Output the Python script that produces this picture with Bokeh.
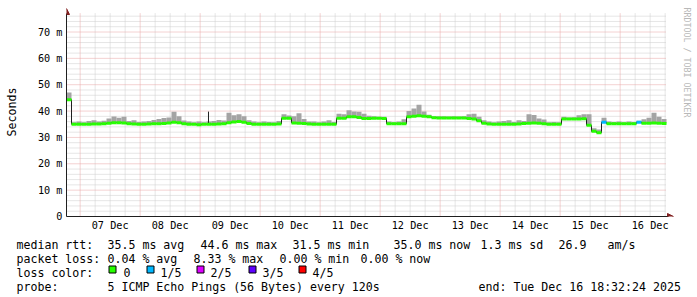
import math
from bokeh.plotting import figure
from bokeh.layouts import column
from bokeh.models import FixedTicker, Range1d, Label, Arrow, NormalHead, ColumnDataSource
from bokeh.core.properties import value
from bokeh.embed import file_html
from bokeh.resources import INLINE

# ---------------- data ----------------
# time in days since 2025-12-06 00:00
T_START = 0.7725      # Sat Dec 06 18:32:24 2025
T_END = 10.7725       # Tue Dec 16 18:32:24 2025
STEP = 1.0 / 12.0     # one sample every 2 hours

# median rtt (ms), one value per 2 h bin
MEDIAN = [
    44.3, 35.0, 35.0, 35.0, 35.0, 35.1, 35.1, 35.2, 35.4, 35.6,
    35.6, 35.5, 35.2, 35.1, 35.0, 35.0, 35.1, 35.2, 35.2, 35.3,
    35.5, 35.8, 35.6, 35.2, 35.0, 35.0, 34.8, 35.0, 35.0, 35.0,
    35.1, 35.2, 35.6, 35.9, 36.0, 35.8, 35.3, 35.0, 35.0, 35.0,
    35.0, 35.0, 35.1, 37.3, 37.3, 35.5, 35.4, 35.3, 35.1, 35.0,
    35.0, 35.0, 35.0, 35.0, 37.3, 37.3, 37.8, 37.8, 37.6, 37.2,
    37.2, 37.3, 37.3, 37.2, 35.2, 35.2, 35.2, 35.2, 37.8, 38.0,
    38.2, 38.0, 37.8, 37.5, 37.4, 37.4, 37.4, 37.4, 37.4, 37.4,
    37.2, 37.0, 36.3, 35.4, 35.1, 35.0, 35.0, 35.0, 35.0, 35.0,
    35.1, 35.3, 35.4, 35.5, 35.4, 35.2, 35.0, 35.0, 35.0, 37.0,
    37.0, 37.0, 37.0, 37.1, 34.6, 32.3, 31.8, 35.8, 35.2, 35.2,
    35.2, 35.2, 35.2, 35.2, 35.8, 35.4, 35.4, 35.5, 35.4, 35.3,
]

# top of the smoke (slowest ping, ms)
SMOKE_HI = [
    47.0, 35.8, 36.0, 35.8, 36.2, 36.5, 36.0, 36.3, 37.2, 37.9,
    37.5, 37.8, 36.2, 36.5, 35.9, 36.0, 36.2, 36.6, 37.0, 37.4,
    37.6, 39.7, 38.0, 36.4, 36.0, 35.8, 36.0, 35.8, 36.0, 36.2,
    36.6, 36.4, 39.4, 38.4, 38.8, 38.0, 36.5, 36.0, 35.8, 36.0,
    35.9, 35.8, 36.2, 38.8, 38.3, 38.0, 39.2, 37.0, 36.0, 36.0,
    35.8, 36.0, 36.5, 35.9, 39.0, 38.8, 40.3, 39.8, 39.7, 39.0,
    38.2, 38.0, 37.8, 37.8, 36.0, 35.8, 36.0, 36.9, 40.0, 41.0,
    42.4, 39.8, 38.6, 38.0, 38.0, 38.0, 37.9, 38.0, 37.9, 38.0,
    38.8, 39.0, 37.8, 36.5, 36.0, 35.8, 36.0, 36.2, 36.5, 35.9,
    36.5, 36.2, 38.8, 38.5, 37.2, 36.8, 35.8, 35.9, 35.8, 37.8,
    37.6, 37.7, 38.4, 38.8, 38.8, 33.5, 33.0, 37.5, 36.0, 35.9,
    36.0, 35.8, 36.0, 35.9, 36.3, 36.9, 37.5, 39.4, 37.8, 37.0,
]

# lost pings out of 5 per bin
LOSS = [
    0, 0, 0, 0, 0, 0, 0, 0, 0, 0, 0, 0, 0, 0, 0, 0, 0, 0, 0, 0,
    0, 0, 0, 0, 0, 0, 0, 0, 0, 0, 0, 0, 0, 0, 0, 0, 0, 0, 0, 0,
    0, 0, 0, 0, 0, 0, 0, 0, 0, 0, 0, 0, 0, 0, 0, 0, 0, 0, 0, 0,
    0, 0, 0, 0, 0, 0, 0, 0, 0, 0, 0, 0, 0, 0, 0, 0, 0, 0, 0, 0,
    0, 0, 0, 0, 0, 0, 0, 0, 0, 0, 0, 0, 0, 0, 0, 0, 0, 0, 0, 0,
    0, 0, 0, 0, 0, 0, 0, 1, 0, 0, 0, 0, 0, 0, 1, 0, 0, 0, 0, 0,
]

# single outlier spike
SPIKE_T = [3.139]
SPIKE_BASE = [35.0]
SPIKE_TOP = [39.8]

LOSS_LABELS = ["0", "1/5", "2/5", "3/5", "4/5"]
LOSS_COLORS = ["#26ff00", "#00b8ff", "#dd00ff", "#5e00ff", "#ff0000"]

Y_TICKS = [0, 10, 20, 30, 40, 50, 60, 70]
Y_LABELS = ["0", "10 m", "20 m", "30 m", "40 m", "50 m", "60 m", "70 m"]
Y_MINOR = [v for v in range(2, 77, 2) if v % 10 != 0]
Y_TOP = 77.0

X_LABEL_POS = [1.5, 2.5, 3.5, 4.5, 5.5, 6.5, 7.5, 8.5, 9.5, 10.5]
X_LABELS = ["07 Dec", "08 Dec", "09 Dec", "10 Dec", "11 Dec",
            "12 Dec", "13 Dec", "14 Dec", "15 Dec", "16 Dec"]
X_MIDNIGHTS = [1, 2, 3, 4, 5, 6, 7, 8, 9, 10]
X_SIX_HOURS = [d + q for d in range(1, 11) for q in (0.25, 0.5, 0.75)]

RTT_TEXT = [("median rtt:", 16), ("35.5 ms avg", 107), ("44.6 ms max", 200),
            ("31.5 ms min", 292), ("35.0 ms now", 393), ("1.3 ms sd", 480),
            ("26.9", 558), ("am/s", 607)]
LOSS_TEXT = [("packet loss:", 16), ("0.04 % avg", 107), ("8.33 % max", 193),
             ("0.00 % min", 279), ("0.00 % now", 360)]
PROBE_TEXT = [("probe:", 16), ("5 ICMP Echo Pings (56 Bytes) every 120s", 107),
              ("end: Tue Dec 16 18:32:24 2025", 478)]
LEGEND_BOX_X = [108, 146, 196, 248, 298]
LEGEND_LABEL_X = [123, 160, 210, 262, 312]

# ---------------- layout ----------------
W, H = 697, 297
H_TOP = 233                 # height of the graph part, legend below
FL, FT, FB = 66, 7, 216     # frame left / top / bottom (canvas px)
PX_PER_DAY = 60.0
PX_PER_MS = (216 - 31.5) / 70.0
MONO = "DejaVu Sans Mono"
GRID = "#cccccc"
MGRID = "#e8a4a4"
AXIS = "#1f1f1f"
ARROW = "#801f1f"
SMOKE = "#a4a4a4"

x_end = T_START + (W - FL) / PX_PER_DAY
y_end = (FB - FT) / PX_PER_MS


def dx(px):
    return T_START + (px - FL) / PX_PER_DAY


def dy(py):
    return (FB - py) / PX_PER_MS


p = figure(width=W, height=H_TOP, x_range=Range1d(T_START, x_end), y_range=Range1d(0, y_end),
           output_backend="svg", toolbar_location=None,
           min_border_left=FL, min_border_right=0,
           min_border_top=FT, min_border_bottom=H_TOP - FB)
p.background_fill_color = "white"
p.border_fill_color = "white"
p.outline_line_color = None

# grid restricted to the graph area
p.xgrid.visible = False
p.ygrid.visible = False
p.segment(x0=X_SIX_HOURS, y0=[0] * len(X_SIX_HOURS), x1=X_SIX_HOURS, y1=[Y_TOP] * len(X_SIX_HOURS),
          line_color=GRID, line_width=1, line_dash="1 1")
p.segment(x0=[T_START] * len(Y_MINOR), y0=Y_MINOR, x1=[T_END] * len(Y_MINOR), y1=Y_MINOR,
          line_color=GRID, line_width=1, line_dash="1 1")
p.segment(x0=X_MIDNIGHTS, y0=[0] * len(X_MIDNIGHTS), x1=X_MIDNIGHTS, y1=[Y_TOP] * len(X_MIDNIGHTS),
          line_color=MGRID, line_width=1, line_dash="1 1")
p.segment(x0=[T_START] * len(Y_TICKS), y0=Y_TICKS, x1=[T_END] * len(Y_TICKS), y1=Y_TICKS,
          line_color=MGRID, line_width=1, line_dash="1 1")

t_left = [T_START + i * STEP for i in range(len(MEDIAN))]
t_right = [t + STEP for t in t_left]
band = 0.57
src = ColumnDataSource(dict(
    left=t_left, right=t_right, med=MEDIAN, hi=SMOKE_HI,
    blo=[m - band for m in MEDIAN], bhi=[m + band for m in MEDIAN],
    col=[LOSS_COLORS[l] for l in LOSS],
))

p.quad(left="left", right="right", bottom="med", top="hi", source=src,
       fill_color=SMOKE, line_color=None)
p.step(x="left", y="med", source=src, mode="after", line_color="#202020", line_width=1)
p.segment(x0=SPIKE_T, y0=SPIKE_BASE, x1=SPIKE_T, y1=SPIKE_TOP, line_color="#202020", line_width=1)
p.quad(left="left", right="right", bottom="blo", top="bhi", source=src,
       fill_color="col", line_color=None)

# axes
p.xaxis.ticker = FixedTicker(ticks=X_LABEL_POS)
p.xaxis.major_label_overrides = dict(zip(X_LABEL_POS, X_LABELS))
p.xaxis.bounds = (T_START, T_END + 2 / PX_PER_DAY)
p.yaxis.ticker = FixedTicker(ticks=Y_TICKS)
p.yaxis.major_label_overrides = dict(zip(Y_TICKS, Y_LABELS))
p.yaxis.bounds = (0, Y_TOP)
for ax in (p.xaxis, p.yaxis):
    ax.axis_line_color = AXIS
    ax.major_tick_line_color = None
    ax.minor_tick_line_color = None
    ax.major_tick_out = 0
    ax.major_tick_in = 0
    ax.major_label_text_font = MONO
    ax.major_label_text_font_size = "10.2px"
    ax.major_label_text_color = "black"
p.xaxis.major_label_standoff = 3
p.yaxis.major_label_standoff = 4
p.yaxis.axis_label = "Seconds"
p.yaxis.axis_label_text_font = MONO
p.yaxis.axis_label_text_font_size = "11.6px"
p.yaxis.axis_label_text_font_style = "normal"
p.yaxis.axis_label_text_color = "black"
p.yaxis.axis_label_standoff = 16

# arrow heads
p.add_layout(Arrow(end=NormalHead(size=6, fill_color=ARROW, line_color=ARROW, line_width=1),
                   x_start=dx(660), y_start=0, x_end=dx(673), y_end=0, line_alpha=0))
p.add_layout(Arrow(end=NormalHead(size=6, fill_color=ARROW, line_color=ARROW, line_width=1),
                   x_start=T_START, y_start=dy(20), x_end=T_START, y_end=dy(8), line_alpha=0))

# watermark
p.add_layout(Label(x=dx(686), y=dy(62), text="RRDTOOL / TOBI OETIKER", angle=-math.pi / 2,
                   text_align="center", text_baseline="middle", text_font=MONO,
                   text_font_size="8.3px", text_color="#b8b8b8"))

# ---------------- legend part (canvas pixel coordinates) ----------------
leg = figure(width=W, height=H - H_TOP, x_range=Range1d(0, W), y_range=Range1d(H, H_TOP),
             output_backend="svg", toolbar_location=None, min_border=0,
             x_axis_location=None, y_axis_location=None)
leg.background_fill_color = "white"
leg.border_fill_color = "white"
leg.outline_line_color = None
leg.xgrid.visible = False
leg.ygrid.visible = False
for fig in (p, leg):
    if hasattr(fig, "frame_align"):
        fig.frame_align = False

rows = [(RTT_TEXT, 244), (LOSS_TEXT, 258),
        ([("loss color:", 16)] + list(zip(LOSS_LABELS, LEGEND_LABEL_X)), 272),
        (PROBE_TEXT, 286)]
tx, ty, tt = [], [], []
for items, base in rows:
    for txt, px in items:
        tx.append(px)
        ty.append(base)
        tt.append(txt)
leg.text(x=tx, y=ty, text=tt, text_font=value(MONO), text_font_size=value("11.6px"),
         text_color="black", text_align="left", text_baseline="alphabetic")
leg.quad(left=[b + 0.5 for b in LEGEND_BOX_X], right=[b + 7.5 for b in LEGEND_BOX_X],
         top=[265.5] * 5, bottom=[272.5] * 5, fill_color=LOSS_COLORS,
         line_color="black", line_width=1)

open("out.html", "w").write(file_html(column(p, leg), INLINE))
